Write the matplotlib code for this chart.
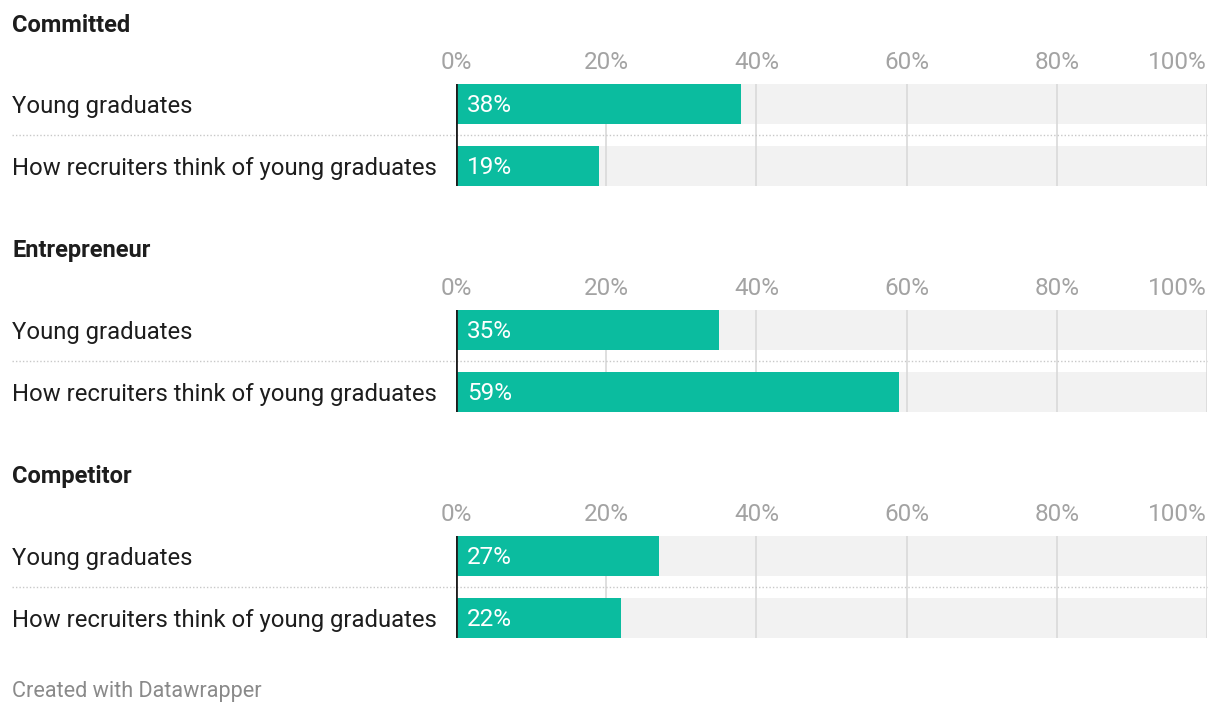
import matplotlib
matplotlib.use("Agg")
import matplotlib.pyplot as plt
from matplotlib.transforms import blended_transform_factory
from matplotlib.lines import Line2D

plt.rcParams['font.family'] = ['Roboto', 'DejaVu Sans']

# data
groups = ["Committed", "Entrepreneur", "Competitor"]
rows = ["Young graduates", "How recruiters think of young graduates"]
values = [
    [38, 19],
    [35, 59],
    [27, 22],
]
ticks = [0, 20, 40, 60, 80, 100]
tick_labels = ["0%", "20%", "40%", "60%", "80%", "100%"]

W, H = 1220, 714
GREEN = "#0bbc9f"
BG = "#f2f2f2"
GRID = "#d9d9d9"

fig = plt.figure(figsize=(W / 100, H / 100), dpi=100)

x0_px, x1_px = 456, 1207
group_step = 226
row_step = 62
dy = 2 / row_step  # small nudge so text sits like the original

for g, name in enumerate(groups):
    top = 84 + group_step * g
    bot = 186 + group_step * g
    ax = fig.add_axes([x0_px / W, 1 - bot / H, (x1_px - x0_px) / W, (bot - top) / H])
    ypos = list(range(len(rows)))
    ax.barh(ypos, [100] * len(rows), height=40 / row_step, color=BG, zorder=0.2)
    ax.barh(ypos, values[g], height=40 / row_step, color=GREEN, zorder=2)
    ax.set_xlim(0, 100)
    ax.set_ylim(1 + 20 / row_step, -20 / row_step)
    for s in ax.spines.values():
        s.set_visible(False)
    ax.set_axisbelow(True)
    ax.xaxis.tick_top()
    ax.set_xticks(ticks)
    ax.set_xticklabels(tick_labels)
    ax.tick_params(axis='x', length=0, pad=7, labelsize=17.5, labelcolor="#a3a3a3")
    ax.get_xticklabels()[-1].set_horizontalalignment('right')
    ax.set_yticks([])
    ax.grid(axis='x', color=GRID, linewidth=1.2, zorder=0.5)
    ax.axvline(0, color="#1d1d1d", linewidth=2, zorder=3)

    trans = blended_transform_factory(fig.transFigure, ax.transData)
    for i, (lab, v) in enumerate(zip(rows, values[g])):
        ax.text(12 / W, i + dy, lab, transform=trans, ha='left', va='center',
                fontsize=17.2, color="#1d1d1d")
        ax.text(1.5, i + dy, f"{v}%", ha='left', va='center', fontsize=17.5,
                color="white", zorder=4)
    sep = Line2D([12 / W, x1_px / W], [0.5, 0.5], transform=trans,
                 color="#c8c8c8", linewidth=1, linestyle=(0, (1, 1.5)),
                 clip_on=False, zorder=1)
    ax.add_line(sep)

    fig.text(12 / W, 1 - (25 + group_step * g) / H, name, ha='left', va='center',
             fontsize=17, fontweight='bold', color="#1d1d1d")

fig.text(12 / W, 1 - 692 / H, "Created with Datawrapper", ha='left', va='center',
         fontsize=15.6, color="#8a8a8a")

fig.savefig("out.png", dpi=100)
